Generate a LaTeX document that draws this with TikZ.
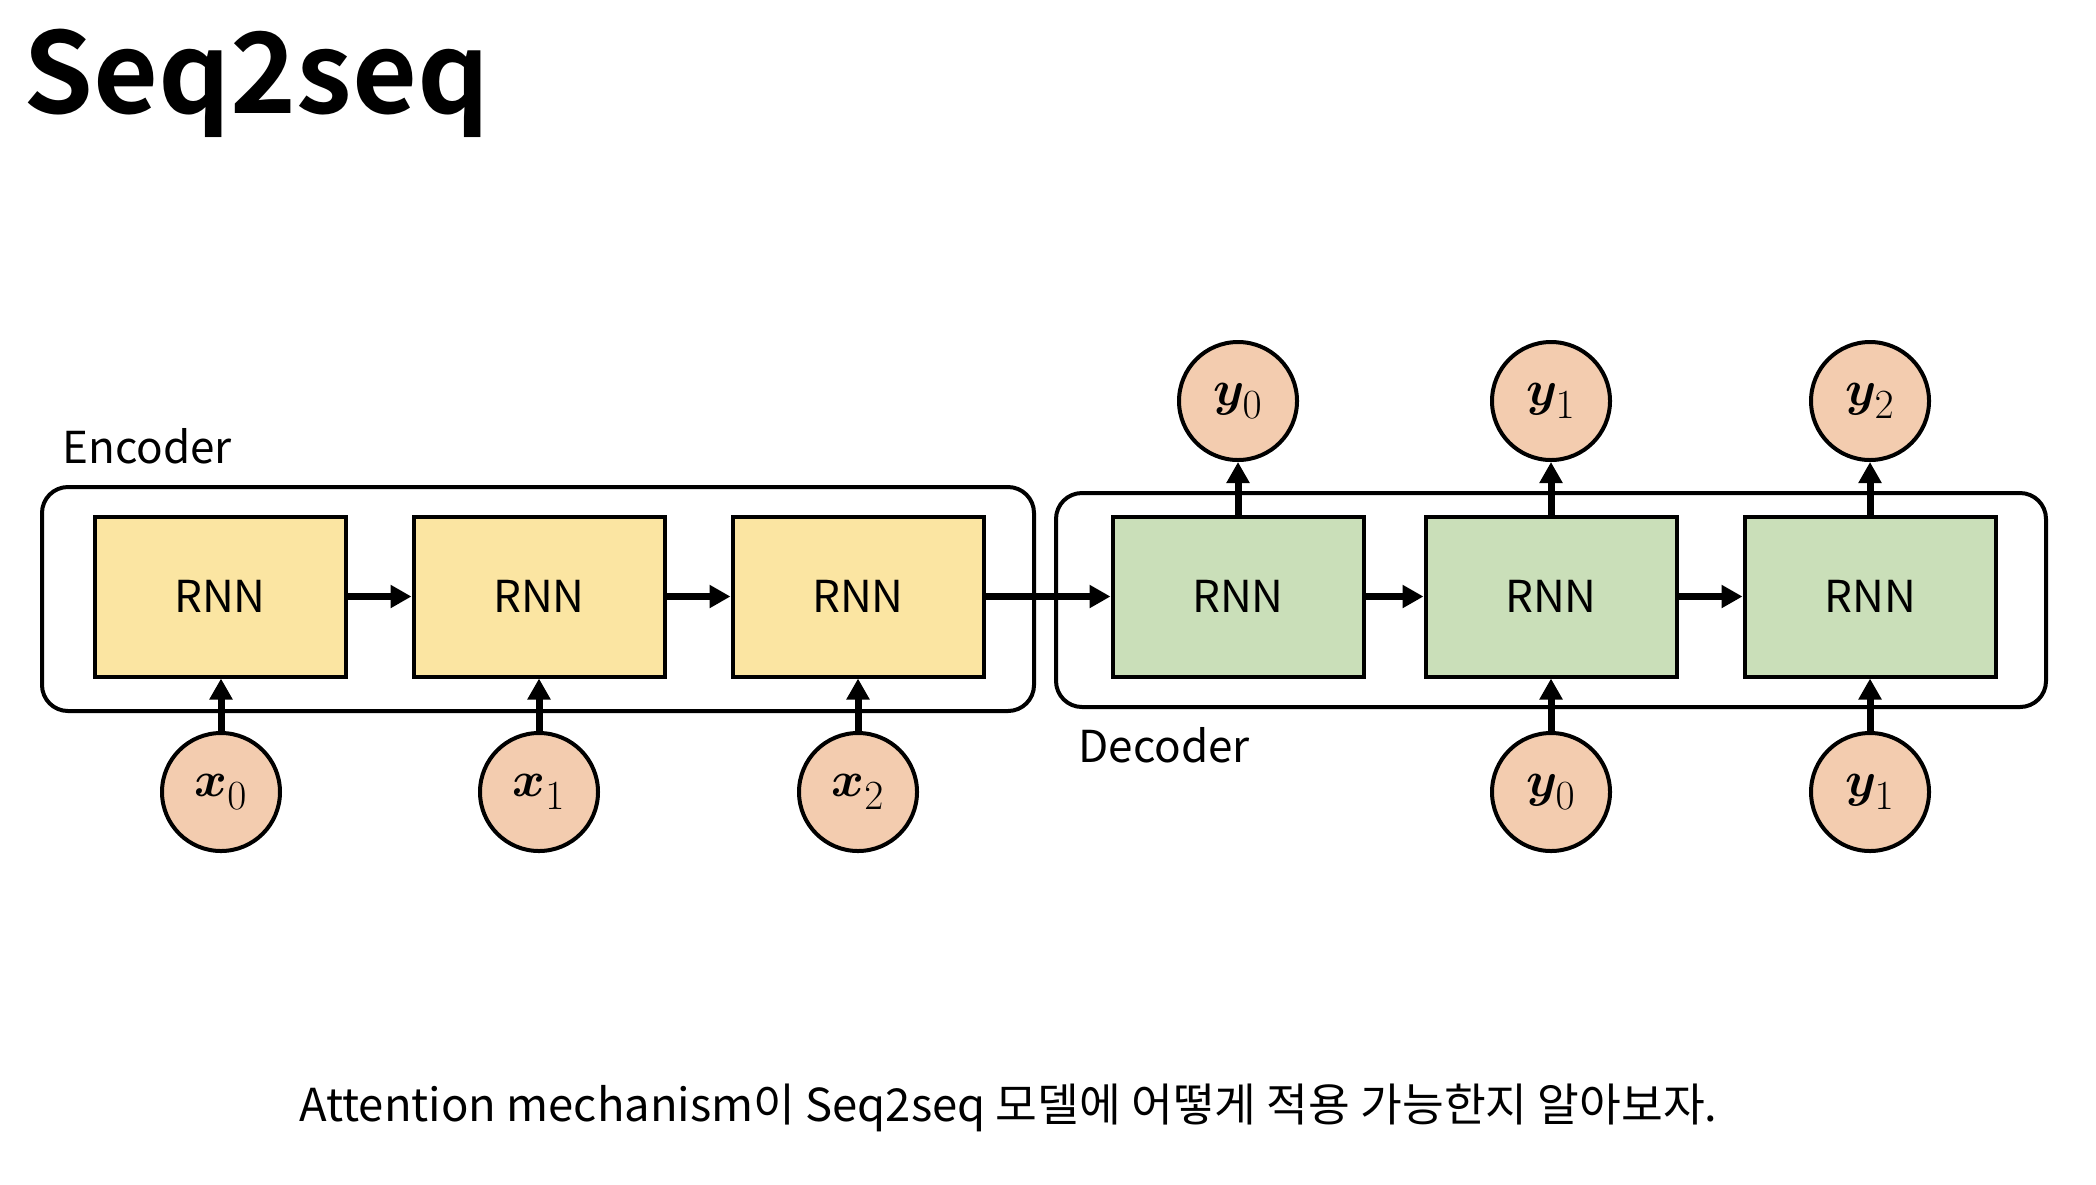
\documentclass[tikz,border=0pt]{standalone}
\usepackage{fontspec}
\usepackage{amsmath,bm}
\setmainfont{Noto Sans CJK KR}[BoldFont={Noto Sans CJK KR Bold}]
\usetikzlibrary{arrows.meta}
\DeclareMathSizes{24}{24}{20}{14}
\newcommand{\iolabel}[2]{$\bm{#1}_{\raisebox{-3pt}{$\scriptstyle #2$}}$}

\definecolor{encfill}{HTML}{FBE5A2}
\definecolor{decfill}{HTML}{CADFB9}
\definecolor{iofill}{HTML}{F3CCAF}

\begin{document}
\begin{tikzpicture}[x=0.5pt,y=-0.5pt,
    rnn/.style={draw,line width=2pt,minimum width=125.5pt,minimum height=80pt,inner sep=0pt,font=\fontsize{22}{24}\selectfont},
    rnnenc/.style={rnn,fill=encfill},
    rnndec/.style={rnn,fill=decfill},
    io/.style={circle,draw,line width=2pt,fill=iofill,minimum size=59pt,inner sep=0pt,font=\fontsize{24}{26}\selectfont},
    outerbox/.style={line width=2pt,rounded corners=13pt},
    label/.style={anchor=base west,inner sep=0pt,font=\fontsize{22}{24}\selectfont},
    link/.style={line width=3.5pt,-{Triangle[length=10.5pt,width=11pt]}}]

    \useasboundingbox (0,0) rectangle (2096,1184);

    %title
    \node[anchor=base west,inner sep=0pt,font=\fontsize{56}{58}\selectfont\bfseries] (title) at (23,113) {Seq2seq};

    %outer boxes
    \draw[outerbox] (42,487) rectangle (1034,711);
    \draw[outerbox] (1056,493) rectangle (2046,707);
    \node[label] (enclabel) at (62,463) {Encoder};
    \node[label] (declabel) at (1078,762) {Decoder};

    %encoder
    \node[rnnenc] (e0) at (220,596.5) {RNN};
    \node[rnnenc] (e1) at (539,596.5) {RNN};
    \node[rnnenc] (e2) at (858,596.5) {RNN};

    \node[io] (x0) at (221,792) {\iolabel{x}{0}};
    \node[io] (x1) at (539,792) {\iolabel{x}{1}};
    \node[io] (x2) at (858,792) {\iolabel{x}{2}};

    %decoder
    \node[rnndec] (d0) at (1238,596.5) {RNN};
    \node[rnndec] (d1) at (1551,596.5) {RNN};
    \node[rnndec] (d2) at (1870,596.5) {RNN};

    \node[io] (yin0) at (1551,792) {\iolabel{y}{0}};
    \node[io] (yin1) at (1870,792) {\iolabel{y}{1}};

    \node[io] (yout0) at (1238,401) {\iolabel{y}{0}};
    \node[io] (yout1) at (1551,401) {\iolabel{y}{1}};
    \node[io] (yout2) at (1870,401) {\iolabel{y}{2}};

    %arrows
    \draw[link] (e0) -- (e1);
    \draw[link] (e1) -- (e2);
    \draw[link] (e2) -- (d0);
    \draw[link] (d0) -- (d1);
    \draw[link] (d1) -- (d2);

    \draw[link] (x0) -- (x0 |- e0.south);
    \draw[link] (x1) -- (e1);
    \draw[link] (x2) -- (e2);
    \draw[link] (yin0) -- (d1);
    \draw[link] (yin1) -- (d2);

    \draw[link] (d0) -- (yout0);
    \draw[link] (d1) -- (yout1);
    \draw[link] (d2) -- (yout2);

    %caption
    \node[anchor=base west,inner sep=0pt,font=\fontsize{22.7}{24}\selectfont] (caption) at (299,1121) {Attention mechanism이 Seq2seq 모델에 어떻게 적용 가능한지 알아보자.};

\end{tikzpicture}
\end{document}
